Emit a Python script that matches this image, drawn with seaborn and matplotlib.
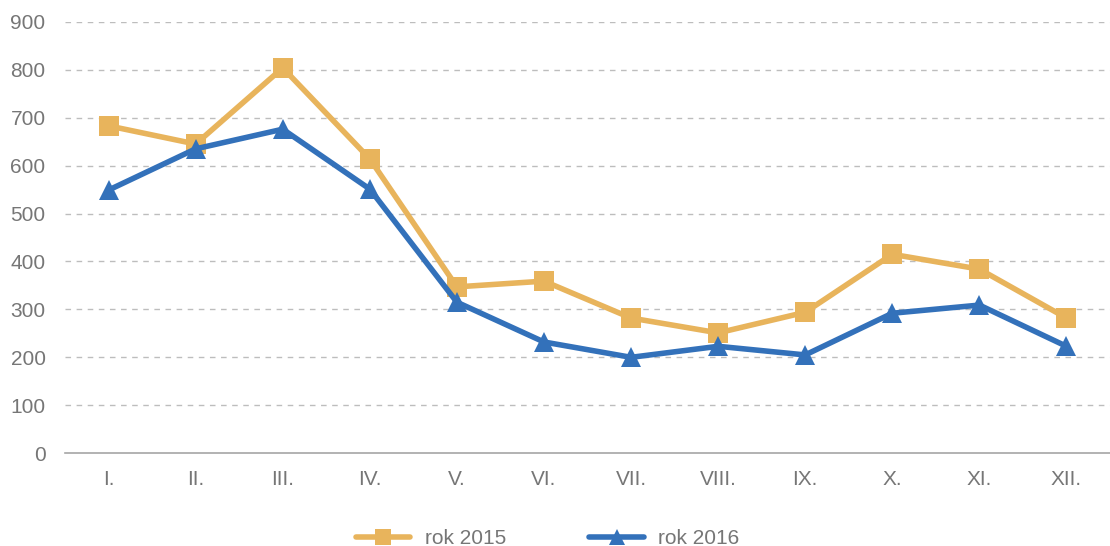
import numpy as np
import pandas as pd
import matplotlib
matplotlib.use("Agg")
import matplotlib.pyplot as plt
import seaborn as sns

# 数据
months = ['I.', 'II.', 'III.', 'IV.', 'V.', 'VI.', 'VII.', 'VIII.', 'IX.', 'X.', 'XI.', 'XII.']
rok_2015 = [683, 645, 804, 614, 347, 359, 282, 251, 294, 415, 384, 282]
rok_2016 = [549, 635, 676, 551, 315, 232, 200, 223, 205, 292, 309, 223]

df = pd.DataFrame({'x': np.arange(len(months)), 'rok 2015': rok_2015, 'rok 2016': rok_2016})
df = df.melt(id_vars='x', var_name='serie', value_name='val')

sns.set_style('white')
plt.rcParams['font.family'] = ['Liberation Sans', 'DejaVu Sans']

fig = plt.figure(figsize=(11.1, 5.46), dpi=100)
ax = fig.add_axes([0.0586, 0.170, 0.9414, 0.79])

palette = {'rok 2015': '#E8B45C', 'rok 2016': '#3371BA'}
sns.lineplot(data=df, x='x', y='val', hue='serie', style='serie', palette=palette,
             markers={'rok 2015': 's', 'rok 2016': '^'}, dashes=False,
             markersize=14, linewidth=4, markeredgewidth=0, ax=ax)

ax.set_xlim(-0.5, 11.5)
ax.set_ylim(0, 900)
ax.set_yticks(range(0, 901, 100))
ax.set_xticks(np.arange(len(months)))
ax.set_xticklabels(months)
ax.set_xticks(np.arange(-0.5, 12, 1), minor=True)
ax.tick_params(axis='x', which='major', length=0, pad=12, labelsize=15, labelcolor='#767676')
ax.tick_params(axis='x', which='minor', length=6, width=1, color='#BFBFBF', direction='out')
ax.tick_params(axis='y', length=0, pad=14, labelsize=15, labelcolor='#767676')
ax.set_xlabel('')
ax.set_ylabel('')

# 虚线网格
for y in range(100, 901, 100):
    ax.axhline(y, color='#BDBDBD', linestyle=(0, (4, 4)), linewidth=1, zorder=0)

for s in ['top', 'right', 'left']:
    ax.spines[s].set_visible(False)
ax.spines['bottom'].set_color('#A6A6A6')
ax.spines['bottom'].set_linewidth(1.2)

leg = ax.legend(loc='center', bbox_to_anchor=(0.462, -0.198), ncol=2, frameon=False,
                fontsize=15, handlelength=2.6, handletextpad=0.7, columnspacing=4,
                labelcolor='#767676')
for h in leg.legend_handles:
    h.set_markersize(12)

fig.savefig('out.png', dpi=100)
